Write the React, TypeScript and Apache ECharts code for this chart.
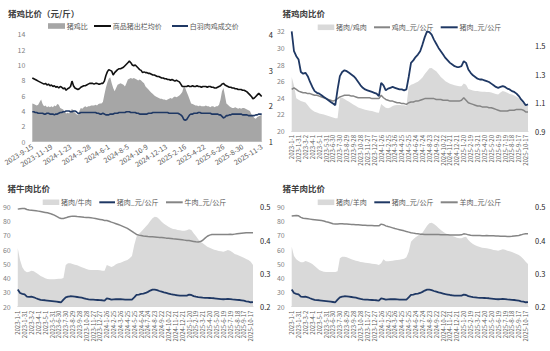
import React, { useEffect, useRef } from "react";
import * as echarts from "echarts";

function makeDates(y: number, m: number, d: number, stepDays: number, n: number): string[] {
  const out: string[] = [];
  const t0 = Date.UTC(y, m - 1, d);
  for (let i = 0; i < n; i++) {
    const dt = new Date(t0 + i * stepDays * 86400000);
    out.push(`${dt.getUTCFullYear()}-${dt.getUTCMonth() + 1}-${dt.getUTCDate()}`);
  }
  return out;
}

// Panel 1 categories: every 5 days from 2023-9-15 to 2025-11-3
const hogDates = makeDates(2023, 9, 15, 5, 157);
// Panels 2-4 categories: every 10 days from 2023-1-1
const meatDates = makeDates(2023, 1, 1, 10, 104);

// 商品猪出栏均价 (元/斤)
const hogPrice = [
  8.3, 8.2, 8.1, 8.0, 7.9, 7.8, 7.7, 7.6, 7.5, 7.6, 7.4, 7.5, 7.3,
  7.4, 7.2, 7.3, 7.1, 7.2, 7.0, 7.2, 7.1, 6.9, 7.0, 6.7, 6.9, 7.0,
  7.2, 7.9, 7.3, 7.0, 6.9, 6.8, 6.9, 7.1, 7.2, 7.3, 7.3, 7.4, 7.5,
  7.6, 7.6, 7.6, 7.5, 7.6, 7.6, 7.5, 7.5, 7.6, 7.6, 7.9, 8.6, 9.1,
  9.4, 9.3, 9.2, 8.7, 9.0, 9.2, 9.4, 9.5, 9.5, 9.6, 9.7, 9.9, 10.1,
  10.3, 10.5, 10.3, 10.0, 9.9, 10.0, 9.8, 9.6, 9.4, 9.3, 9.0, 9.1, 9.0,
  9.0, 8.9, 8.9, 8.8, 8.7, 8.7, 8.6, 8.5, 8.5, 8.4, 8.3, 8.3, 8.2,
  8.2, 8.1, 8.1, 8.0, 8.1, 8.0, 7.9, 8.0, 7.9, 7.8, 7.5, 7.2, 7.2,
  7.2, 7.2, 7.3, 7.2, 7.2, 7.3, 7.2, 7.2, 7.3, 7.2, 7.2, 7.1, 7.2,
  7.2, 7.2, 7.1, 7.2, 7.2, 7.1, 7.1, 7.0, 7.0, 7.1, 7.2, 7.3, 7.5,
  7.6, 7.4, 7.3, 7.2, 7.1, 7.1, 7.0, 7.0, 6.9, 6.9, 6.8, 6.8, 6.8,
  6.7, 6.7, 6.6, 6.5, 6.3, 6.1, 5.9, 5.6, 5.7, 5.9, 6.1, 6.3, 6.1,
  5.9,
];

// 白羽肉鸡成交价 (元/斤)
const broilerPrice = [
  3.9, 3.9, 3.8, 3.8, 3.7, 3.7, 3.7, 3.7, 3.6, 3.6, 3.7, 3.7, 3.6,
  3.6, 3.6, 3.5, 3.6, 3.6, 3.7, 3.8, 3.8, 3.9, 3.9, 4.0, 4.0, 4.0,
  3.9, 3.9, 4.0, 4.0, 3.9, 3.7, 3.7, 3.8, 3.8, 3.8, 3.8, 3.8, 3.8,
  3.8, 3.8, 3.8, 3.8, 3.8, 3.7, 3.7, 3.6, 3.6, 3.7, 3.6, 3.5, 3.5,
  3.5, 3.6, 3.6, 3.6, 3.7, 3.7, 3.7, 3.8, 3.8, 3.8, 3.8, 3.8, 3.9,
  3.9, 3.9, 3.8, 3.8, 3.8, 3.8, 3.7, 3.7, 3.6, 3.6, 3.6, 3.6, 3.6,
  3.6, 3.7, 3.7, 3.7, 3.8, 3.8, 3.8, 3.8, 3.8, 3.8, 3.8, 3.8, 3.8,
  3.8, 3.8, 3.7, 3.7, 3.7, 3.7, 3.7, 3.7, 3.7, 3.6, 3.5, 3.3, 2.9,
  2.8, 2.9, 3.2, 3.5, 3.6, 3.6, 3.7, 3.7, 3.7, 3.8, 3.8, 3.7, 3.7,
  3.7, 3.7, 3.7, 3.7, 3.7, 3.6, 3.6, 3.6, 3.6, 3.6, 3.5, 3.5, 3.3,
  3.1, 3.2, 3.4, 3.4, 3.5, 3.5, 3.6, 3.6, 3.6, 3.6, 3.6, 3.6, 3.6,
  3.5, 3.5, 3.5, 3.5, 3.4, 3.4, 3.4, 3.4, 3.4, 3.5, 3.5, 3.6, 3.6,
  3.6,
];

// 猪鸡比 (right axis)
const hogBroilerRatio = [
  2.07, 2.05, 2.03, 2.01, 2.03, 2.11, 2.18, 2.05, 1.99, 2.01, 1.96, 1.99, 1.96,
  1.99, 1.96, 2.01, 1.99, 2.05, 2.03, 1.94, 1.92, 1.90, 1.84, 1.79, 1.81, 1.79,
  1.86, 1.92, 1.86, 1.81, 1.77, 1.75, 1.86, 1.94, 1.92, 1.96, 1.99, 1.96, 1.99,
  1.99, 2.01, 2.01, 2.01, 2.03, 2.01, 2.05, 2.07, 2.07, 2.11, 2.31, 2.50, 2.65,
  2.76, 2.80, 2.63, 2.50, 2.41, 2.50, 2.59, 2.61, 2.63, 2.61, 2.59, 2.54, 2.63,
  2.74, 2.76, 2.78, 2.76, 2.78, 2.76, 2.74, 2.71, 2.74, 2.71, 2.67, 2.63, 2.54,
  2.50, 2.46, 2.41, 2.37, 2.33, 2.29, 2.26, 2.24, 2.22, 2.20, 2.20, 2.18, 2.18,
  2.16, 2.18, 2.20, 2.22, 2.20, 2.24, 2.26, 2.24, 2.26, 2.29, 2.33, 2.39, 2.54,
  2.50, 2.39, 2.29, 2.18, 2.07, 2.05, 2.03, 2.01, 2.01, 1.99, 2.01, 1.99, 1.99,
  1.99, 2.01, 1.99, 1.99, 1.96, 1.99, 1.99, 1.96, 1.99, 1.99, 2.03, 2.18, 2.41,
  2.50, 2.29, 2.07, 2.03, 1.99, 1.96, 1.94, 1.94, 1.96, 1.94, 1.92, 1.94, 1.92,
  1.94, 1.94, 1.92, 1.90, 1.88, 1.86, 1.77, 1.71, 1.66, 1.64, 1.69, 1.71, 1.73,
  1.75,
];

// 猪肉_元/公斤
const porkPrice = [
  32.0, 29.6, 29.0, 28.6, 27.1, 26.9, 27.0, 26.6, 25.9, 25.3,
  24.8, 24.6, 24.5, 24.3, 24.1, 23.9, 23.7, 23.5, 23.3, 23.1,
  25.0, 26.6, 27.1, 27.3, 27.2, 27.0, 26.8, 26.6, 26.3, 25.9,
  25.5, 25.2, 25.0, 24.9, 24.8, 24.7, 24.6, 24.5, 24.2, 25.8,
  25.5, 24.9, 25.1, 25.2, 25.3, 25.2, 25.1, 25.0, 25.0, 24.9,
  25.0, 26.5, 28.2, 28.5, 28.9, 29.2, 29.6, 30.4, 31.3, 32.0,
  31.9, 31.6, 31.0, 30.5, 30.0, 29.6, 29.2, 28.8, 28.5, 28.2,
  28.0, 27.8, 27.7, 27.7, 27.8, 28.4, 28.2, 27.4, 27.0, 26.7,
  26.5, 26.3, 26.2, 26.2, 26.1, 26.0, 25.9, 25.7, 25.5, 25.3,
  25.2, 25.3, 25.4, 25.3, 25.1, 25.0, 24.8, 24.7, 24.5, 24.2,
  23.8, 23.5, 23.1, 23.2,
];

// 鸡肉_元/公斤
const chickenPrice = [
  25.0, 25.2, 25.0, 24.8, 24.7, 24.6, 24.6, 24.5, 24.5, 24.4,
  24.3, 24.3, 24.2, 24.1, 24.0, 23.9, 23.8, 23.7, 23.6, 23.7,
  23.9, 24.1, 24.2, 24.3, 24.3, 24.3, 24.2, 24.2, 24.1, 24.0,
  24.0, 24.0, 24.0, 24.0, 24.0, 23.9, 23.9, 23.9, 23.9, 24.3,
  24.0, 23.8, 23.7, 23.6, 23.6, 23.5, 23.4, 23.4, 23.3, 23.3,
  23.2, 23.4, 23.5, 23.5, 23.6, 23.6, 23.7, 23.8, 23.9, 23.9,
  23.9, 23.9, 23.9, 23.8, 23.8, 23.8, 23.7, 23.7, 23.7, 23.6,
  23.6, 23.6, 23.6, 23.6, 23.7, 24.0, 23.7, 23.4, 23.3, 23.2,
  23.1, 23.0, 23.0, 22.9, 22.9, 22.9, 22.8, 22.8, 22.7, 22.6,
  22.5, 22.4, 22.4, 22.4, 22.4, 22.5, 22.5, 22.5, 22.6, 22.6,
  22.6, 22.5, 22.3, 22.3,
];

// 猪肉/鸡肉 (right axis)
const porkChickenRatio = [
  1.28, 1.22, 1.13, 1.12, 1.11, 1.105, 1.1, 1.08, 1.06, 1.045,
  1.035, 1.03, 1.022, 1.02, 1.015, 1.01, 1.005, 1.0, 0.995, 0.99,
  0.99, 1.13, 1.133, 1.125, 1.115, 1.105, 1.095, 1.085, 1.075, 1.065,
  1.06, 1.055, 1.05, 1.045, 1.042, 1.04, 1.035, 1.03, 1.028, 1.09,
  1.075, 1.063, 1.06, 1.065, 1.075, 1.08, 1.082, 1.082, 1.081, 1.08,
  1.075, 1.21, 1.225, 1.23, 1.238, 1.245, 1.26, 1.275, 1.3, 1.32,
  1.34, 1.343, 1.33, 1.32, 1.3, 1.28, 1.265, 1.25, 1.24, 1.232,
  1.226, 1.221, 1.218, 1.215, 1.215, 1.233, 1.225, 1.195, 1.19, 1.185,
  1.18, 1.18, 1.178, 1.176, 1.175, 1.174, 1.174, 1.17, 1.165, 1.16,
  1.157, 1.17, 1.18, 1.175, 1.168, 1.16, 1.157, 1.15, 1.14, 1.13,
  1.11, 1.095, 1.08, 1.075,
];

// 牛肉_元/公斤
const beefPrice = [
  88.3, 88.6, 88.8, 88.7, 88.0, 87.7, 87.5, 87.3, 87.1, 86.9,
  86.6, 86.3, 86.0, 85.7, 85.3, 84.7, 84.1, 83.2, 82.3, 81.8,
  81.8, 82.2, 82.8, 83.2, 83.4, 83.3, 83.1, 83.0, 82.8, 82.6,
  82.5, 82.4, 82.2, 82.0, 81.7, 81.4, 81.1, 80.8, 80.4, 80.3,
  79.8, 79.2, 78.7, 78.1, 77.5, 76.9, 76.2, 75.5, 74.8, 73.8,
  72.7, 71.6, 70.6, 70.1, 69.8, 69.5, 69.3, 69.1, 69.0, 68.9,
  68.8, 68.7, 68.5, 68.4, 68.2, 68.0, 67.9, 67.7, 67.5, 67.4,
  67.2, 67.0, 66.8, 66.6, 66.4, 66.3, 66.0, 65.7, 65.4, 65.3,
  65.6, 66.5, 68.0, 69.3, 70.1, 70.5, 70.6, 70.6, 70.5, 70.6,
  70.6, 70.5, 70.6, 70.7, 70.6, 70.8, 71.0, 71.2, 71.4, 71.6,
  71.8, 71.8, 71.7, 71.8,
];

// 猪肉/牛肉 (right axis)
const porkBeefRatio = [
  0.375, 0.34, 0.318, 0.308, 0.303, 0.305, 0.308, 0.306, 0.302, 0.297,
  0.292, 0.289, 0.285, 0.283, 0.282, 0.282, 0.282, 0.283, 0.284, 0.284,
  0.286, 0.325, 0.33, 0.33, 0.328, 0.326, 0.324, 0.321, 0.318, 0.316,
  0.313, 0.311, 0.31, 0.31, 0.31, 0.31, 0.309, 0.308, 0.308, 0.325,
  0.322, 0.319, 0.322, 0.327, 0.33, 0.332, 0.335, 0.338, 0.34, 0.345,
  0.352, 0.385, 0.41, 0.418, 0.425, 0.432, 0.44, 0.447, 0.457, 0.465,
  0.47, 0.468, 0.462, 0.455, 0.449, 0.444, 0.44, 0.436, 0.433, 0.432,
  0.43, 0.429, 0.428, 0.428, 0.429, 0.432, 0.43, 0.42, 0.412, 0.402,
  0.395, 0.39, 0.385, 0.38, 0.377, 0.374, 0.371, 0.369, 0.367, 0.366,
  0.365, 0.367, 0.37, 0.368, 0.363, 0.358, 0.356, 0.353, 0.35, 0.347,
  0.343, 0.34, 0.335, 0.325,
];

// 羊肉_元/公斤
const muttonPrice = [
  83.5, 83.7, 83.9, 83.6, 82.5, 81.9, 81.7, 81.5, 81.3, 81.1,
  80.9, 80.7, 80.5, 80.3, 80.0, 79.5, 79.1, 78.6, 78.1, 77.9,
  77.9, 78.0, 78.0, 77.9, 77.9, 77.8, 77.6, 77.5, 77.4, 77.3,
  77.2, 77.1, 77.0, 76.9, 76.9, 76.8, 76.7, 76.7, 76.6, 77.8,
  77.4, 76.6, 76.1, 75.7, 75.2, 74.7, 74.3, 73.9, 73.5, 73.1,
  72.6, 72.2, 71.8, 71.5, 71.2, 71.0, 70.8, 70.7, 70.6, 70.6,
  70.6, 70.6, 70.6, 70.5, 70.5, 70.4, 70.4, 70.3, 70.3, 70.2,
  70.2, 70.2, 70.2, 70.2, 70.3, 71.0, 70.8, 70.3, 70.0, 69.9,
  69.8, 69.8, 69.8, 69.7, 69.7, 69.8, 69.7, 69.6, 69.6, 69.5,
  69.5, 69.4, 69.3, 69.3, 69.2, 69.2, 69.3, 69.5, 69.7, 69.9,
  70.3, 70.8, 71.1, 71.0,
];

// 猪肉/羊肉 (right axis)
const porkMuttonRatio = [
  0.38, 0.352, 0.342, 0.337, 0.333, 0.333, 0.337, 0.335, 0.332, 0.328,
  0.322, 0.316, 0.31, 0.307, 0.305, 0.304, 0.304, 0.304, 0.304, 0.304,
  0.306, 0.345, 0.35, 0.35, 0.348, 0.345, 0.342, 0.34, 0.338, 0.336,
  0.334, 0.333, 0.332, 0.331, 0.33, 0.329, 0.328, 0.327, 0.325, 0.33,
  0.342, 0.336, 0.336, 0.337, 0.338, 0.339, 0.34, 0.341, 0.342, 0.344,
  0.348, 0.365, 0.395, 0.402, 0.408, 0.413, 0.418, 0.422, 0.432, 0.443,
  0.45, 0.452, 0.448, 0.443, 0.436, 0.43, 0.425, 0.42, 0.417, 0.414,
  0.412, 0.41, 0.407, 0.405, 0.405, 0.408, 0.41, 0.4, 0.393, 0.388,
  0.384, 0.381, 0.379, 0.377, 0.376, 0.375, 0.374, 0.372, 0.37, 0.369,
  0.368, 0.37, 0.372, 0.371, 0.368, 0.366, 0.364, 0.361, 0.358, 0.355,
  0.35, 0.343, 0.335, 0.328,
];

const FONT = '"Noto Sans CJK SC", "Noto Sans", sans-serif';
const BLUE = "#1f3864";
const BLACK = "#111111";
const GRAY_LINE = "#858585";
const AREA_DARK = "#a6a6a6";
const AREA_LIGHT = "#d9d9d9";

const titles = ["猪鸡比价（元/斤）", "猪鸡肉比价", "猪牛肉比价", "猪羊肉比价"];

// legend entries per panel: [name, kind, color]
const legendEntries: [string, "rect" | "line", string][][] = [
  [["猪鸡比", "rect", AREA_DARK], ["商品猪出栏均价", "line", BLACK], ["白羽肉鸡成交价", "line", BLUE]],
  [["猪肉/鸡肉", "rect", AREA_LIGHT], ["鸡肉_元/公斤", "line", GRAY_LINE], ["猪肉_元/公斤", "line", BLUE]],
  [["猪肉/牛肉", "rect", AREA_LIGHT], ["猪肉_元/公斤", "line", BLUE], ["牛肉_元/公斤", "line", GRAY_LINE]],
  [["猪肉/羊肉", "rect", AREA_LIGHT], ["猪肉_元/公斤", "line", BLUE], ["羊肉_元/公斤", "line", GRAY_LINE]],
];

function buildOption(): any {
  const grids = [
    { left: 32.3, top: 34.3, width: 229.4, height: 107.4 },
    { left: 291.7, top: 31.3, width: 236.3, height: 99.7 },
    { left: 16.7, top: 206.7, width: 236.3, height: 100 },
    { left: 291.7, top: 206.7, width: 236.3, height: 100 },
  ];
  const titlePos = [
    { left: 8, top: 9 },
    { left: 282.5, top: 9 },
    { left: 7.5, top: 184 },
    { left: 282.5, top: 184 },
  ];
  // legend layout: icon start x for each of the 3 items, and center y
  const legendLayout = [
    { y: 26, xs: [48, 94, 172], ws: [17, 17, 16] },
    { y: 27.3, xs: [317.7, 374, 440.7], ws: [16.6, 16, 17] },
    { y: 202.3, xs: [42.7, 99.3, 166], ws: [16.6, 15.7, 16.7] },
    { y: 202.3, xs: [317.7, 374.3, 440.7], ws: [16.6, 15.7, 17] },
  ];

  const xAxis = grids.map((_, gi) => ({
    type: "category",
    gridIndex: gi,
    data: gi === 0 ? hogDates : meatDates,
    boundaryGap: false,
    axisTick: { show: false },
    axisLine: { show: true, lineStyle: { color: "#d9d9d9", width: 1 } },
    splitLine: { show: false },
    axisLabel: {
      interval: gi === 0 ? 12 : 2,
      rotate: gi === 0 ? 32 : 90,
      fontSize: gi === 0 ? 7 : 6,
      color: "#595959",
      margin: 4,
      fontFamily: FONT,
    },
  }));

  const leftCfg = [
    { min: 0, max: 14, interval: 2 },
    { min: 20, max: 32, interval: 2 },
    { min: 20, max: 90, interval: 10 },
    { min: 20, max: 90, interval: 10 },
  ];
  const rightCfg = [
    { min: 1, max: 4, interval: 1, fmt: (v: number) => String(Math.round(v)) },
    { min: 0.9, max: 1.6, interval: 0.2, fmt: (v: number) => v.toFixed(1) },
    { min: 0.2, max: 0.5, interval: 0.1, fmt: (v: number) => v.toFixed(1) },
    { min: 0.2, max: 0.5, interval: 0.1, fmt: (v: number) => v.toFixed(1) },
  ];
  const yAxis: any[] = [];
  grids.forEach((_, gi) => {
    yAxis.push({
      type: "value",
      gridIndex: gi,
      position: "left",
      min: leftCfg[gi].min,
      max: leftCfg[gi].max,
      interval: leftCfg[gi].interval,
      axisLine: { show: false },
      axisTick: { show: false },
      splitLine: { show: false },
      axisLabel: { fontSize: 7, color: "#7f7f7f", margin: 7, fontFamily: FONT },
    });
    yAxis.push({
      type: "value",
      gridIndex: gi,
      position: "right",
      min: rightCfg[gi].min,
      max: rightCfg[gi].max,
      interval: rightCfg[gi].interval,
      axisLine: { show: false },
      axisTick: { show: false },
      splitLine: { show: false },
      axisLabel: {
        fontSize: 7.5,
        color: "#262626",
        margin: 7,
        showMaxLabel: gi === 1 ? false : true,
        formatter: rightCfg[gi].fmt,
        fontFamily: FONT,
      },
    });
  });

  const area = (name: string, gi: number, data: number[], color: string) => ({
    name,
    type: "line",
    xAxisIndex: gi,
    yAxisIndex: gi * 2 + 1,
    data,
    symbol: "none",
    showSymbol: false,
    lineStyle: { width: 0, color },
    itemStyle: { color },
    areaStyle: { color, opacity: 1, origin: "start" },
    z: 1,
    silent: true,
  });
  const line = (name: string, gi: number, data: number[], color: string, width: number) => ({
    name,
    type: "line",
    xAxisIndex: gi,
    yAxisIndex: gi * 2,
    data,
    symbol: "none",
    showSymbol: false,
    lineStyle: { width, color },
    itemStyle: { color },
    z: 3,
    silent: true,
  });

  const series = [
    area("猪鸡比", 0, hogBroilerRatio, AREA_DARK),
    line("商品猪出栏均价", 0, hogPrice, BLACK, 1.6),
    line("白羽肉鸡成交价", 0, broilerPrice, BLUE, 1.6),

    area("猪肉/鸡肉", 1, porkChickenRatio, AREA_LIGHT),
    line("鸡肉_元/公斤", 1, chickenPrice, GRAY_LINE, 1.5),
    line("猪肉_元/公斤", 1, porkPrice, BLUE, 1.8),

    area("猪肉/牛肉", 2, porkBeefRatio, AREA_LIGHT),
    line("猪肉_元/公斤", 2, porkPrice, BLUE, 1.8),
    line("牛肉_元/公斤", 2, beefPrice, GRAY_LINE, 1.5),

    area("猪肉/羊肉", 3, porkMuttonRatio, AREA_LIGHT),
    line("猪肉_元/公斤", 3, porkPrice, BLUE, 1.8),
    line("羊肉_元/公斤", 3, muttonPrice, GRAY_LINE, 1.5),
  ];

  const title = titles.map((t, i) => ({
    text: t,
    left: titlePos[i].left,
    top: titlePos[i].top,
    padding: 0,
    textStyle: { fontSize: 8.5, fontWeight: "bold", color: "#404040", fontFamily: FONT },
  }));

  const graphic: any[] = [];
  const wmPos = [
    [212, 127],
    [487, 122],
    [212, 297],
    [487, 297],
  ];
  wmPos.forEach(([x, y]) =>
    graphic.push({
      type: "text",
      x,
      y,
      z: 0,
      silent: true,
      style: {
        text: "大地期货",
        fontSize: 9,
        fontWeight: "bold",
        fill: "rgba(200,200,200,0.35)",
        fontFamily: FONT,
      },
    })
  );

  legendEntries.forEach((entries, pi) => {
    const lay = legendLayout[pi];
    entries.forEach(([name, kind, color], k) => {
      const x0 = lay.xs[k];
      const w = lay.ws[k];
      if (kind === "rect") {
        graphic.push({
          type: "rect",
          silent: true,
          z: 10,
          shape: { x: x0, y: lay.y - 2.8, width: w, height: 5.6 },
          style: { fill: color },
        });
      } else {
        graphic.push({
          type: "line",
          silent: true,
          z: 10,
          shape: { x1: x0, y1: lay.y, x2: x0 + w, y2: lay.y },
          style: { stroke: color, lineWidth: 2 },
        });
      }
      graphic.push({
        type: "text",
        silent: true,
        z: 10,
        x: x0 + w + 1.8,
        y: lay.y,
        style: {
          text: name,
          fontSize: 7,
          fill: "#595959",
          fontFamily: FONT,
          verticalAlign: "middle",
          align: "left",
        },
      });
    });
  });

  return {
    animation: false,
    backgroundColor: "#ffffff",
    title,
    grid: grids.map((g) => ({ ...g, containLabel: false })),
    xAxis,
    yAxis,
    series,
    graphic,
  };
}

export default function App() {
  const ref = useRef<HTMLDivElement | null>(null);
  useEffect(() => {
    if (!ref.current) return;
    const chart = echarts.init(ref.current, undefined, { renderer: "svg" });
    chart.setOption(buildOption());
    return () => {
      chart.dispose();
    };
  }, []);
  return (
    <div
      ref={ref}
      style={{ position: "absolute", left: 0, top: 0, width: 550, height: 351, background: "#fff" }}
    />
  );
}
